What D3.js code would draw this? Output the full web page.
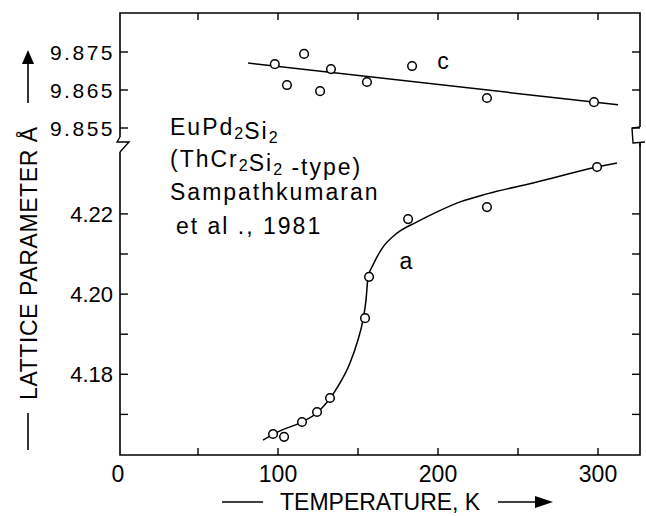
<!DOCTYPE html>
<html>
<head>
<meta charset="utf-8">
<script src="https://cdn.jsdelivr.net/npm/d3@7"></script>
<style>
  body { margin: 0; background: #fff; }
  text { font-family: 'Liberation Sans', Arial, sans-serif; fill: #000; }
</style>
</head>
<body>
<div id="chart"></div>
<script>
// c parameter (upper panel), measured points
const cTemps = [98, 105.6, 116.3, 126.3, 133.1, 155.6, 183.8, 230.6, 297.5];
const cValues = [9.8718, 9.8663, 9.8745, 9.8647, 9.8705, 9.8671, 9.8713, 9.8629, 9.8618];
// c fit line ends
const cLineTemps = [81.3, 312.5];
const cLineValues = [9.8721, 9.8611];

// a parameter (lower panel), measured points
const aTemps = [96.9, 103.8, 115, 124.4, 132.5, 154.4, 156.9, 181.3, 230.6, 299.4];
const aValues = [4.1651, 4.1644, 4.1681, 4.1706, 4.1741, 4.194, 4.2043, 4.2187, 4.2217, 4.2317];
// a guide curve
const aCurveTemps = [90.6, 101.3, 113.8, 125, 136.9, 145, 150, 153.1, 155, 156.3, 159.4, 165.6, 174.4, 186.9, 199.4, 213.8, 230.6, 259.4, 299.4, 311.9];
const aCurveValues = [4.1636, 4.1659, 4.1679, 4.1706, 4.1766, 4.1828, 4.1886, 4.1935, 4.1985, 4.2043, 4.2073, 4.2117, 4.2152, 4.218, 4.2205, 4.223, 4.225, 4.2277, 4.2317, 4.2327];

const xTicks = [0, 100, 200, 300];
const xMinorTicks = [50, 100, 150, 200, 250, 300];
const cTicks = [9.875, 9.865, 9.855];
const aTicks = [4.22, 4.2, 4.18];
const aMinorTicks = [4.22, 4.21, 4.2, 4.19, 4.18, 4.17];

const width = 646;
const height = 516;
let frame = { left: 120, right: 640, top: 13, bottom: 455 };

let svg = d3
  .select('#chart')
  .append('svg')
  .attr('width', width)
  .attr('height', height);

// Scales
let x = d3.scaleLinear().domain([0, 300]).range([118, 598]);
let yC = d3.scaleLinear().domain([9.855, 9.875]).range([128, 52]);
let yA = d3.scaleLinear().domain([4.16, 4.22]).range([454.5, 213.9]);

let ink = (sel, w) => sel.attr('stroke', '#000').attr('stroke-width', w).attr('fill', 'none');

// Frame with axis breaks
ink(svg.append('path'), 1.6).attr(
  'd',
  `M${frame.left},137 L${frame.left},${frame.top} L${frame.right},${frame.top} L${frame.right},127`
);
ink(svg.append('path'), 1.6).attr(
  'd',
  `M${frame.left},152 L${frame.left},${frame.bottom} L${frame.right},${frame.bottom} L${frame.right},143`
);
// break marks
ink(svg.append('path'), 1.4).attr('d', `M${frame.left},137 L117,142 L129,142 L${frame.left},152`);
ink(svg.append('path'), 1.4).attr('d', `M${frame.right},127 L632,128 L633,143 L645,142 M${frame.right},143 L${frame.right},146`);

// Ticks: bottom + top
xMinorTicks.forEach((t) => {
  ink(svg.append('line'), 1.4)
    .attr('x1', x(t)).attr('x2', x(t))
    .attr('y1', frame.bottom).attr('y2', frame.bottom - 7);
  ink(svg.append('line'), 1.4)
    .attr('x1', x(t)).attr('x2', x(t))
    .attr('y1', frame.top).attr('y2', frame.top + 7);
});

// Ticks: left + right
let yTickPositions = cTicks.map((d) => yC(d)).concat(aMinorTicks.map((d) => yA(d)));
yTickPositions.forEach((py) => {
  ink(svg.append('line'), 1.4)
    .attr('x1', frame.left).attr('x2', frame.left + 8)
    .attr('y1', py).attr('y2', py);
  ink(svg.append('line'), 1.4)
    .attr('x1', frame.right).attr('x2', frame.right - 8)
    .attr('y1', py).attr('y2', py);
});

// Tick labels
svg
  .selectAll('.x-label')
  .data(xTicks)
  .enter()
  .append('text')
  .attr('x', (d) => x(d))
  .attr('y', 482)
  .attr('text-anchor', 'middle')
  .attr('font-size', '23px')
  .text((d) => d);

svg
  .selectAll('.c-label')
  .data(cTicks)
  .enter()
  .append('text')
  .attr('x', 115)
  .attr('y', (d) => yC(d))
  .attr('dy', '0.36em')
  .attr('text-anchor', 'end')
  .attr('font-size', '21px')
  .attr('letter-spacing', '2.5px')
  .text((d) => d3.format('.3f')(d));

svg
  .selectAll('.a-label')
  .data(aTicks)
  .enter()
  .append('text')
  .attr('x', 113)
  .attr('y', (d) => yA(d))
  .attr('dy', '0.36em')
  .attr('text-anchor', 'end')
  .attr('font-size', '22px')
  .text((d) => d3.format('.2f')(d));

// Lines
let cLine = d3
  .line()
  .x((d, i) => x(cLineTemps[i]))
  .y((d) => yC(d));
ink(svg.append('path'), 1.5).attr('d', cLine(cLineValues));

let aLine = d3
  .line()
  .curve(d3.curveMonotoneX)
  .x((d, i) => x(aCurveTemps[i]))
  .y((d) => yA(d));
ink(svg.append('path'), 1.5).attr('d', aLine(aCurveValues));

// Points
svg
  .selectAll('.c-dot')
  .data(cValues)
  .enter()
  .append('circle')
  .attr('cx', (d, i) => x(cTemps[i]))
  .attr('cy', (d) => yC(d))
  .attr('r', 4.3)
  .attr('fill', '#fff')
  .attr('stroke', '#000')
  .attr('stroke-width', 1.5);

svg
  .selectAll('.a-dot')
  .data(aValues)
  .enter()
  .append('circle')
  .attr('cx', (d, i) => x(aTemps[i]))
  .attr('cy', (d) => yA(d))
  .attr('r', 4.3)
  .attr('fill', '#fff')
  .attr('stroke', '#000')
  .attr('stroke-width', 1.5);

// Series labels
svg.append('text').attr('x', 443).attr('y', 69).attr('text-anchor', 'middle')
  .attr('font-size', '23px').text('c');
svg.append('text').attr('x', 406).attr('y', 269).attr('text-anchor', 'middle')
  .attr('font-size', '23px').text('a');

// Compound annotation
let note = svg.append('g').attr('font-size', '23px').attr('letter-spacing', '2px');
let addSub = (parts, px, py) => {
  let txt = note.append('text').attr('x', px).attr('y', py);
  parts.forEach((p) => {
    if (p.sub) {
      txt.append('tspan').attr('dy', 4).attr('font-size', '16px').attr('letter-spacing', '1px').text(p.sub);
      txt.append('tspan').attr('dy', -4).text('');
    } else {
      txt.append('tspan').text(p.t);
    }
  });
  return txt;
};
addSub([{ t: 'EuPd' }, { sub: '2' }, { t: 'Si' }, { sub: '2' }], 170, 135);
addSub([{ t: '(ThCr' }, { sub: '2' }, { t: 'Si' }, { sub: '2' }, { t: ' -type)' }], 170, 167);
note.append('text').attr('x', 170).attr('y', 200).text('Sampathkumaran');
note.append('text').attr('x', 176).attr('y', 234).text('et al ., 1981');

// X axis title
ink(svg.append('line'), 1.6).attr('x1', 222).attr('x2', 263).attr('y1', 502).attr('y2', 502);
svg.append('text').attr('x', 280).attr('y', 510).attr('font-size', '23px')
  .text('TEMPERATURE, K');
ink(svg.append('line'), 1.6).attr('x1', 498).attr('x2', 540).attr('y1', 502).attr('y2', 502);
svg.append('path').attr('d', 'M553,502 L535,496 L535,508 Z').attr('fill', '#000');

// Y axis title
ink(svg.append('line'), 1.6).attr('x1', 28).attr('x2', 28).attr('y1', 450).attr('y2', 413);
svg.append('text')
  .attr('transform', 'translate(37,400) rotate(-90)')
  .attr('font-size', '23px')
  .attr('letter-spacing', '0.6px')
  .text('LATTICE PARAMETER  Å');
ink(svg.append('line'), 1.6).attr('x1', 28).attr('x2', 28).attr('y1', 103).attr('y2', 62);
svg.append('path').attr('d', 'M28,50 L22,64 L34,64 Z').attr('fill', '#000');
</script>
</body>
</html>
